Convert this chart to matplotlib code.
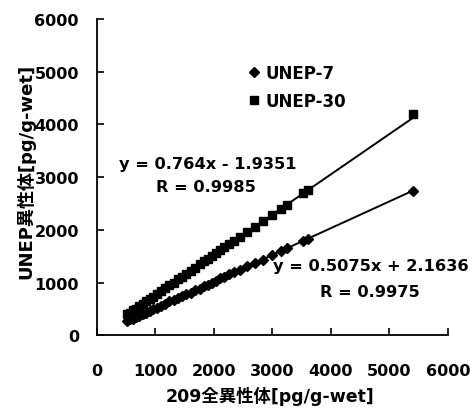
import numpy as np
import matplotlib
matplotlib.use("Agg")
import matplotlib.pyplot as plt

plt.rcParams["font.family"] = ["DejaVu Sans", "Noto Sans CJK JP"]

# 209 total congeners (x) vs UNEP congeners (y), pg/g-wet
x_total = [520, 560, 610, 660, 720, 780, 840, 900, 960, 1030, 1100, 1170, 1240,
           1310, 1380, 1450, 1530, 1600, 1680, 1760, 1830, 1900, 1970, 2040,
           2110, 2180, 2260, 2340, 2450, 2570, 2700, 2830, 3000, 3150, 3250,
           3520, 3600, 5400]
y_unep7 = [270, 300, 310, 340, 360, 400, 420, 450, 490, 520, 560, 590, 640,
           660, 700, 740, 780, 800, 860, 880, 930, 960, 990, 1030, 1080, 1110,
           1160, 1200, 1240, 1310, 1370, 1430, 1530, 1600, 1650, 1790, 1830, 2740]
y_unep30 = [400, 430, 470, 500, 560, 600, 640, 690, 730, 790, 840, 890, 950,
            1000, 1060, 1110, 1170, 1220, 1280, 1350, 1400, 1450, 1500, 1560,
            1610, 1670, 1730, 1790, 1870, 1960, 2060, 2160, 2290, 2400, 2480,
            2690, 2760, 4200]

# trend lines as printed on the chart
fit7 = (0.5075, 2.1636)
fit30 = (0.764, -1.9351)

fig = plt.figure(figsize=(4.73, 4.10), dpi=100)
ax = fig.add_axes([0.205, 0.180, 0.742, 0.771])

xr = np.array([min(x_total), max(x_total)])
ax.plot(xr, fit7[0] * xr + fit7[1], color="black", lw=1.4)
ax.plot(xr, fit30[0] * xr + fit30[1], color="black", lw=1.4)
ax.plot(x_total, y_unep7, ls="none", marker="D", ms=5.5, color="black", label="UNEP-7")
ax.plot(x_total, y_unep30, ls="none", marker="s", ms=6, color="black", label="UNEP-30")

ax.set_xlim(0, 6000)
ax.set_ylim(0, 6000)
ax.set_xticks(range(0, 6001, 1000))
ax.set_yticks(range(0, 6001, 1000))
for s in ["top", "right"]:
    ax.spines[s].set_visible(False)
for s in ["left", "bottom"]:
    ax.spines[s].set_linewidth(1.3)
ax.tick_params(direction="in", length=5, width=1.2, labelsize=11.5)
ax.tick_params(axis="x", pad=20)
ax.tick_params(axis="y", pad=13)
for lab in ax.get_xticklabels() + ax.get_yticklabels():
    lab.set_fontweight("bold")

ax.set_xlabel("209全異性体[pg/g-wet]", fontsize=12.5, fontweight="bold")
ax.set_ylabel("UNEP異性体[pg/g-wet]", fontsize=13, fontweight="bold")
ax.xaxis.set_label_coords(0.493, -0.19)
ax.yaxis.set_label_coords(-0.202, 0.522)
ax.xaxis.label.set_va("center")
ax.yaxis.label.set_va("center")

leg = ax.legend(loc="upper left", bbox_to_anchor=(0.39, 0.905), frameon=False,
                handlelength=0.6, handletextpad=0.4, labelspacing=0.6,
                prop={"size": 12, "weight": "bold"})

ax.text(1900, 3180, "y = 0.764x - 1.9351", ha="center", fontsize=11.7, fontweight="bold")
ax.text(1860, 2730, "R = 0.9985", ha="center", fontsize=11.7, fontweight="bold")
ax.text(4680, 1240, "y = 0.5075x + 2.1636", ha="center", fontsize=11.7, fontweight="bold")
ax.text(4670, 750, "R = 0.9975", ha="center", fontsize=11.7, fontweight="bold")

fig.savefig("out.png", dpi=100)
